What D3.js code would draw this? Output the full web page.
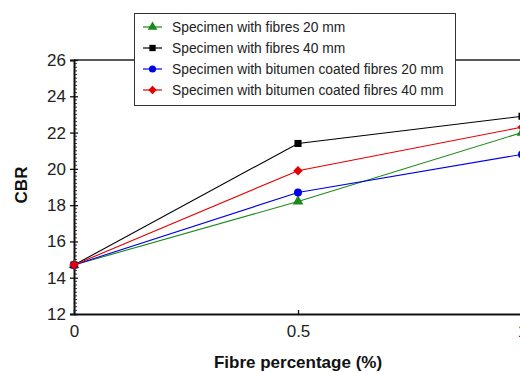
<!DOCTYPE html>
<html><head><meta charset="utf-8">
<script src="https://cdn.jsdelivr.net/npm/d3@7"></script>
<style>body{margin:0;background:#fff;overflow:hidden}svg{display:block}</style>
</head><body>
<svg id="c" width="520" height="373"></svg>
<script>
const xValues = [0, 0.5, 1];
const seriesNames = ["Specimen with fibres 20 mm","Specimen with fibres 40 mm","Specimen with bitumen coated fibres 20 mm","Specimen with bitumen coated fibres 40 mm"];
const fibres20 = [14.7, 18.2, 22.0];
const fibres40 = [14.7, 21.4, 22.9];
const coated20 = [14.7, 18.7, 20.8];
const coated40 = [14.7, 19.9, 22.3];
const yTicks = [12, 14, 16, 18, 20, 22, 24, 26];
const xTicks = [0, 0.5, 1];
const colors = ["#1a8a1a", "#000000", "#0000e6", "#e60000"];
const shapes = [d3.symbolTriangle, d3.symbolSquare, d3.symbolCircle, d3.symbolSquare];
const rotations = [0, 0, 0, 45];
const allSeries = [fibres20, fibres40, coated20, coated40];

const svg = d3.select("#c");
const font = "'Liberation Sans', Arial, sans-serif";
const x = d3.scaleLinear().domain([0, 1]).range([74, 522]);
const y = d3.scaleLinear().domain([12, 26]).range([314, 60]);

// top frame line
svg.append("line").attr("x1", x(0)).attr("x2", 520).attr("y1", y(26)).attr("y2", y(26))
  .attr("stroke", "#222").attr("stroke-width", 1.3);

// minor y ticks
const minor = d3.range(12, 26.001, 0.2).filter(v => Math.abs(v - Math.round(v/2)*2) > 0.01);
svg.append("g").selectAll("line").data(minor).join("line")
  .attr("x1", x(0)).attr("x2", x(0) + 3).attr("y1", d => y(d)).attr("y2", d => y(d))
  .attr("stroke", "#333").attr("stroke-width", 1);

// y axis
const ya = svg.append("g").attr("transform", `translate(${x(0)},0)`)
  .call(d3.axisLeft(y).tickValues(yTicks).tickSize(4).tickPadding(4).tickFormat(d3.format("d")));
ya.select(".domain").attr("stroke", "#111").attr("stroke-width", 2);
ya.selectAll(".tick line").attr("x2", -4).attr("x1", 4).attr("stroke", "#111").attr("stroke-width", 1.3);
ya.selectAll("text").attr("font-family", font).attr("font-size", 17).attr("fill", "#222");

// x axis
const xa = svg.append("g").attr("transform", `translate(0,${y(12)})`)
  .call(d3.axisBottom(x).tickValues(xTicks).tickSize(0).tickPadding(11).tickFormat(d => d === 0.5 ? "0.5" : d3.format("d")(d)));
xa.select(".domain").attr("stroke", "#111").attr("stroke-width", 2);
xa.selectAll(".tick line").attr("y2", -4).attr("stroke", "#111").attr("stroke-width", 1.3);
xa.selectAll("text").attr("font-family", font).attr("font-size", 17).attr("fill", "#222");

// axis labels
svg.append("text").attr("x", x(0.5)).attr("y", 368).attr("text-anchor", "middle")
  .attr("font-family", font).attr("font-weight", "bold").attr("font-size", 17).attr("fill", "#111")
  .text("Fibre percentage (%)");
svg.append("text").attr("transform", `translate(27,185) rotate(-90)`).attr("text-anchor", "middle")
  .attr("font-family", font).attr("font-weight", "bold").attr("font-size", 17).attr("fill", "#111")
  .text("CBR");

// series
const line = d3.line().x((d, i) => x(xValues[i])).y(d => y(d));
allSeries.forEach((s, k) => {
  svg.append("path").datum(s).attr("d", line).attr("fill", "none")
    .attr("stroke", colors[k]).attr("stroke-width", 1.1);
  svg.append("g").selectAll("path").data(s).join("path")
    .attr("transform", (d, i) => `translate(${x(xValues[i])},${y(d)}) rotate(${rotations[k]})`)
    .attr("d", d3.symbol().type(shapes[k]).size(k === 3 ? 45 : 50))
    .attr("fill", colors[k]);
});

// legend
const lg = svg.append("g");
lg.append("rect").attr("x", 134.5).attr("y", 13.5).attr("width", 321).attr("height", 92)
  .attr("fill", "#fff").attr("stroke", "#333").attr("stroke-width", 1);
seriesNames.forEach((n, k) => {
  const yy = 27 + k * 21;
  lg.append("line").attr("x1", 143).attr("x2", 162).attr("y1", yy).attr("y2", yy)
    .attr("stroke", colors[k]).attr("stroke-width", 1.2);
  lg.append("path").attr("transform", `translate(152.5,${yy}) rotate(${rotations[k]})`)
    .attr("d", d3.symbol().type(shapes[k]).size(k === 3 ? 35 : 40)).attr("fill", colors[k]);
  lg.append("text").attr("x", 172).attr("y", yy + 5).attr("font-family", font)
    .attr("font-size", 13.8).attr("fill", "#222").text(n);
});
</script>
</body></html>
